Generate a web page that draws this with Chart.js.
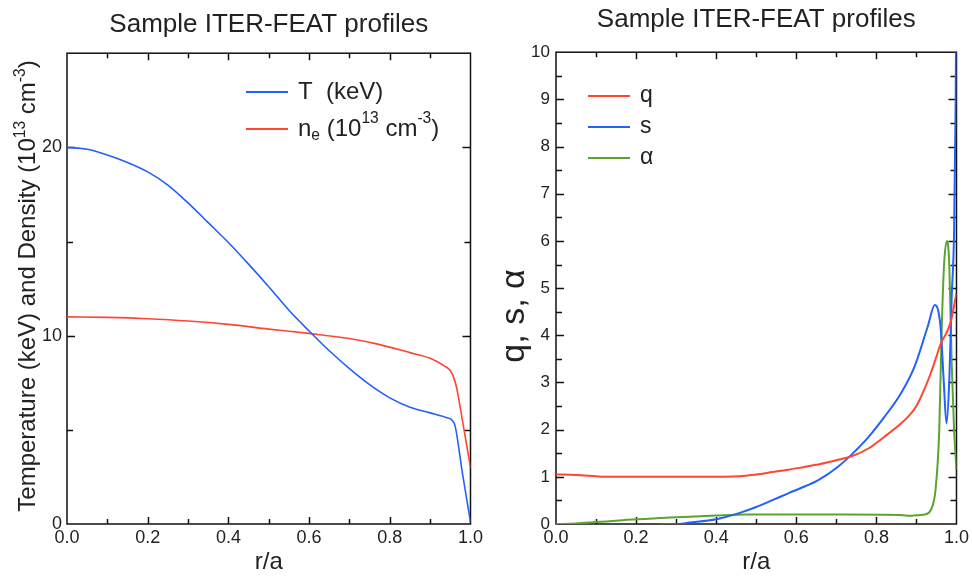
<!DOCTYPE html>
<html>
<head>
<meta charset="utf-8">
<script src="https://cdn.jsdelivr.net/npm/chart.js@4.4.1/dist/chart.umd.min.js"></script>
<style>
  html, body { margin: 0; padding: 0; background: #fff; }
  #wrap { position: relative; width: 972px; height: 577px; }
  #wrap canvas { position: absolute; top: 0; }
  #left { left: 0; }
  #right { left: 486px; }
</style>
</head>
<body>
<div id="wrap">
  <canvas id="left" width="486" height="577"></canvas>
  <canvas id="right" width="486" height="577"></canvas>
</div>
<script>
// ---- data ----
const chartTitle = 'Sample ITER-FEAT profiles';

// left panel: temperature (keV) and density (10^13 cm^-3) vs r/a
const rTemp = [0, 0.05, 0.1, 0.15, 0.2, 0.25, 0.3, 0.35, 0.4, 0.45, 0.5, 0.55, 0.6, 0.65, 0.7, 0.75, 0.8, 0.85, 0.9, 0.94, 0.955, 0.962, 0.98, 1.0];
const temp  = [20.0, 19.9, 19.6, 19.2, 18.7, 18.0, 17.05, 16.0, 14.95, 13.8, 12.6, 11.35, 10.25, 9.2, 8.25, 7.4, 6.7, 6.2, 5.9, 5.65, 5.5, 5.2, 2.7, 0.1];

const rDens = [0, 0.1, 0.2, 0.3, 0.4, 0.5, 0.6, 0.7, 0.77, 0.85, 0.9, 0.935, 0.95, 0.958, 0.965, 0.98, 1.0];
const dens  = [11.0, 10.97, 10.9, 10.78, 10.6, 10.35, 10.12, 9.85, 9.55, 9.1, 8.8, 8.4, 8.15, 7.8, 7.3, 5.5, 3.0];

// right panel: q, s, alpha vs r/a
const rQ = [0, 0.05, 0.1, 0.12, 0.2, 0.3, 0.42, 0.46, 0.5, 0.54, 0.58, 0.62, 0.66, 0.7, 0.74, 0.78, 0.82, 0.86, 0.88, 0.9, 0.92, 0.936, 0.95, 0.961, 0.975, 0.986, 1.0];
const q  = [1.05, 1.04, 1.01, 1.0, 1.0, 1.0, 1.0, 1.01, 1.05, 1.1, 1.15, 1.21, 1.27, 1.35, 1.44, 1.6, 1.85, 2.12, 2.28, 2.5, 2.86, 3.2, 3.55, 3.83, 4.05, 4.3, 4.89];

const rS = [0.26, 0.3, 0.333, 0.4, 0.457, 0.5, 0.539, 0.58, 0.622, 0.655, 0.705, 0.738, 0.78, 0.82, 0.86, 0.895, 0.928, 0.946, 0.955, 0.961, 0.968, 0.975, 0.982, 0.988, 0.994, 0.998, 1.0];
const s  = [0.0, 0.0, 0.03, 0.1, 0.23, 0.36, 0.5, 0.65, 0.8, 0.93, 1.22, 1.47, 1.84, 2.27, 2.75, 3.33, 4.18, 4.64, 4.5, 4.1, 3.05, 2.13, 3.05, 4.8, 6.2, 9.0, 12.0];

const rAlpha = [0, 0.05, 0.1, 0.15, 0.2, 0.25, 0.333, 0.4, 0.473, 0.6, 0.72, 0.86, 0.886, 0.91, 0.92, 0.936, 0.948, 0.957, 0.963, 0.969, 0.976, 0.982, 0.988, 0.994, 1.0];
const alpha  = [0, 0.01, 0.04, 0.07, 0.1, 0.12, 0.155, 0.18, 0.2, 0.2, 0.2, 0.19, 0.175, 0.19, 0.2, 0.3, 0.75, 2.0, 4.1, 5.5, 6.0, 5.5, 3.4, 2.0, 1.15];

const BLUE = '#2260ff';
const RED = '#ff4632';
const GREEN = '#5aa532';
const TEXT = '#222';
const FONT = '"Liberation Sans", Arial, Helvetica, sans-serif';

Chart.defaults.font.family = FONT;
Chart.defaults.color = TEXT;

function pts(xs, ys) {
  return xs.map((x, i) => ({ x: x, y: ys[i] }));
}

// draw text with sub/superscript parts, starting at x
function drawRich(ctx, parts, x, y, size) {
  let cx = x;
  parts.forEach(p => {
    const fs = p.s ? size * 0.65 : size;
    ctx.font = fs + 'px ' + FONT;
    let dy = 0;
    if (p.s === 'sup') dy = -size * 0.42;
    if (p.s === 'sub') dy = size * 0.28;
    ctx.fillText(p.t, cx, y + dy);
    cx += ctx.measureText(p.t).width;
  });
  return cx - x;
}

function richWidth(ctx, parts, size) {
  let w = 0;
  parts.forEach(p => {
    ctx.font = (p.s ? size * 0.65 : size) + 'px ' + FONT;
    w += ctx.measureText(p.t).width;
  });
  return w;
}

// frame, inward ticks on all four sides, legend and y title
function decor(opts) {
  return {
    id: 'decor',
    beforeDatasetsDraw(chart) {
      const { ctx, chartArea: a, scales: { x, y } } = chart;
      ctx.save();
      ctx.strokeStyle = '#111';
      ctx.lineWidth = 1.5;
      ctx.beginPath();
      x.ticks.forEach(t => {
        const px = Math.round(x.getPixelForValue(t.value)) + 0.5;
        if (px <= a.left + 2 || px >= a.right - 2) return;
        const len = opts.xMajor(t.value) ? 7 : 5;
        ctx.moveTo(px, a.bottom); ctx.lineTo(px, a.bottom - len);
        ctx.moveTo(px, a.top); ctx.lineTo(px, a.top + len);
      });
      y.ticks.forEach(t => {
        const py = Math.round(y.getPixelForValue(t.value)) + 0.5;
        if (py <= a.top + 2 || py >= a.bottom - 2) return;
        const len = opts.yMajor(t.value) ? 8 : 6;
        ctx.moveTo(a.left, py); ctx.lineTo(a.left + len, py);
        ctx.moveTo(a.right, py); ctx.lineTo(a.right - len, py);
      });
      ctx.stroke();
      ctx.strokeRect(a.left, a.top, a.right - a.left, a.bottom - a.top);
      ctx.restore();
    },
    afterDraw(chart) {
      const ctx = chart.ctx;
      ctx.save();
      ctx.textBaseline = 'middle';
      ctx.textAlign = 'left';
      opts.legend.forEach(item => {
        ctx.strokeStyle = item.color;
        ctx.lineWidth = 2;
        ctx.beginPath();
        ctx.moveTo(opts.legendX, item.y);
        ctx.lineTo(opts.legendX + 42, item.y);
        ctx.stroke();
        ctx.fillStyle = TEXT;
        drawRich(ctx, item.parts, opts.legendX + 52, item.y, opts.legendSize);
      });
      // rotated y-axis title
      const yt = opts.yTitle;
      ctx.translate(yt.x, yt.y);
      ctx.rotate(-Math.PI / 2);
      ctx.textBaseline = 'alphabetic';
      ctx.fillStyle = TEXT;
      const w = richWidth(ctx, yt.parts, yt.size);
      drawRich(ctx, yt.parts, -w / 2, 0, yt.size);
      ctx.restore();
    }
  };
}

function xScale() {
  return {
    type: 'linear', min: 0, max: 1,
    ticks: {
      stepSize: 0.1, autoSkip: false, maxRotation: 0, padding: 3,
      font: { size: 18 }, color: TEXT,
      callback: v => (Math.round(v * 10) % 2 === 0 ? v.toFixed(1) : '')
    },
    grid: { display: false, drawTicks: false },
    border: { display: false },
    title: { display: true, text: 'r/a', font: { size: 24 }, color: TEXT, padding: 0 },
    afterFit: sc => { sc.height = 53; }
  };
}

function lineSet(label, xs, ys, color, width) {
  return {
    label: label,
    data: pts(xs, ys),
    borderColor: color,
    backgroundColor: color,
    borderWidth: width,
    pointRadius: 0,
    fill: false,
    cubicInterpolationMode: 'monotone'
  };
}

// left chart
new Chart(document.getElementById('left'), {
  type: 'line',
  data: {
    datasets: [
      lineSet('T (keV)', rTemp, temp, BLUE, 1.6),
      lineSet('n_e (10^13 cm^-3)', rDens, dens, RED, 1.6)
    ]
  },
  options: {
    responsive: false,
    animation: false,
    layout: { padding: { right: 14 } },
    plugins: {
      legend: { display: false },
      tooltip: { enabled: false },
      title: {
        display: true, text: chartTitle, fullSize: false,
        font: { size: 26, weight: 'normal' }, color: TEXT,
        padding: { top: 9, bottom: 13 }
      }
    },
    scales: {
      x: xScale(),
      y: {
        min: 0, max: 25,
        ticks: {
          stepSize: 5, autoSkip: false, padding: 5, font: { size: 18 }, color: TEXT,
          callback: v => (v % 10 === 0 ? String(v) : '')
        },
        grid: { display: false, drawTicks: false },
        border: { display: false },
        afterFit: sc => { sc.width = 67; }
      }
    }
  },
  plugins: [decor({
    xMajor: v => Math.round(v * 10) % 2 === 0,
    yMajor: v => v % 10 === 0,
    legendX: 246,
    legendSize: 24,
    legend: [
      { color: BLUE, y: 92, parts: [{ t: 'T  (keV)' }] },
      { color: RED, y: 129, parts: [{ t: 'n' }, { t: 'e', s: 'sub' }, { t: ' (10' }, { t: '13', s: 'sup' }, { t: ' cm' }, { t: '-3', s: 'sup' }, { t: ')' }] }
    ],
    yTitle: {
      x: 35, y: 286, size: 24,
      parts: [{ t: 'Temperature (keV) and Density (10' }, { t: '13', s: 'sup' }, { t: ' cm' }, { t: '-3', s: 'sup' }, { t: ')' }]
    }
  })]
});

// right chart
new Chart(document.getElementById('right'), {
  type: 'line',
  data: {
    datasets: [
      lineSet('q', rQ, q, RED, 2),
      lineSet('s', rS, s, BLUE, 2),
      lineSet('\u03b1', rAlpha, alpha, GREEN, 2)
    ]
  },
  options: {
    responsive: false,
    animation: false,
    layout: { padding: { right: 13 } },
    plugins: {
      legend: { display: false },
      tooltip: { enabled: false },
      title: {
        display: true, text: chartTitle, fullSize: false,
        font: { size: 26, weight: 'normal' }, color: TEXT,
        padding: { top: 4, bottom: 17 }
      }
    },
    scales: {
      x: xScale(),
      y: {
        min: 0, max: 10,
        ticks: {
          stepSize: 0.5, autoSkip: false, padding: 6, font: { size: 17 }, color: TEXT,
          callback: v => (Number.isInteger(v) ? String(v) : '')
        },
        grid: { display: false, drawTicks: false },
        border: { display: false },
        afterFit: sc => { sc.width = 70; }
      }
    }
  },
  plugins: [decor({
    xMajor: v => Math.round(v * 10) % 2 === 0,
    yMajor: v => Number.isInteger(v),
    legendX: 102,
    legendSize: 23,
    legend: [
      { color: RED, y: 96, parts: [{ t: 'q' }] },
      { color: BLUE, y: 127, parts: [{ t: 's' }] },
      { color: GREEN, y: 158, parts: [{ t: '\u03b1' }] }
    ],
    yTitle: { x: 38, y: 316, size: 34, parts: [{ t: 'q, s, \u03b1' }] }
  })]
});
</script>
</body>
</html>
